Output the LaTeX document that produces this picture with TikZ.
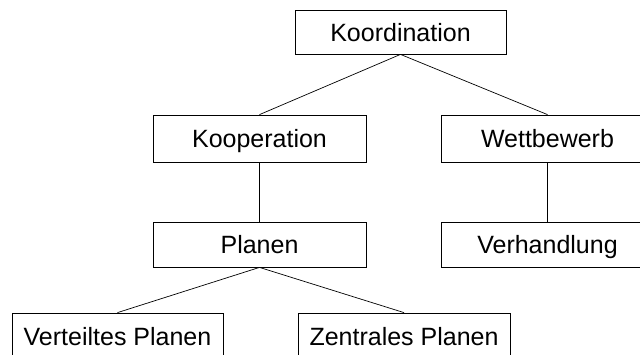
\documentclass[tikz,border=0pt]{standalone}
\usepackage{fontspec}
\setmainfont{Liberation Sans}
\begin{document}
\begin{tikzpicture}[x=1pt,y=-1pt,
  box/.style={draw=black, line width=0.8pt, rectangle, inner sep=0pt,
    minimum width=213pt, minimum height=46pt, text height=18pt, text depth=0pt,
    font=\fontsize{25}{30}\selectfont},
  conn/.style={draw=black, line width=0.7pt}]
\useasboundingbox (0,0) rectangle (640,354);
\clip (0,0) rectangle (640,354);
\fill[white] (0,0) rectangle (640,354);
\node[box, minimum width=211pt, minimum height=44pt] (koord) at (400.5,32) {Koordination};
\node[box, minimum height=47pt] (koop) at (259.5,138.5) {Kooperation};
\node[box, minimum height=47pt] (wett) at (547.5,138.5) {Wettbewerb};
\node[box, minimum height=45pt] (plan) at (259.5,244.5) {Planen};
\node[box, minimum height=45pt] (verh) at (547.5,244.5) {Verhandlung};
\node[box, minimum width=211pt] (vert) at (117.5,336) {Verteiltes Planen};
\node[box, minimum width=212pt] (zent) at (404,336) {Zentrales Planen};
\draw[conn] (koord.south) -- (koop.north);
\draw[conn] (koord.south) -- (wett.north);
\draw[conn] (koop.south) -- (plan.north);
\draw[conn] (wett.south) -- (verh.north);
\draw[conn] (plan.south) -- (vert.north);
\draw[conn] (plan.south) -- (zent.north);
\end{tikzpicture}
\end{document}
